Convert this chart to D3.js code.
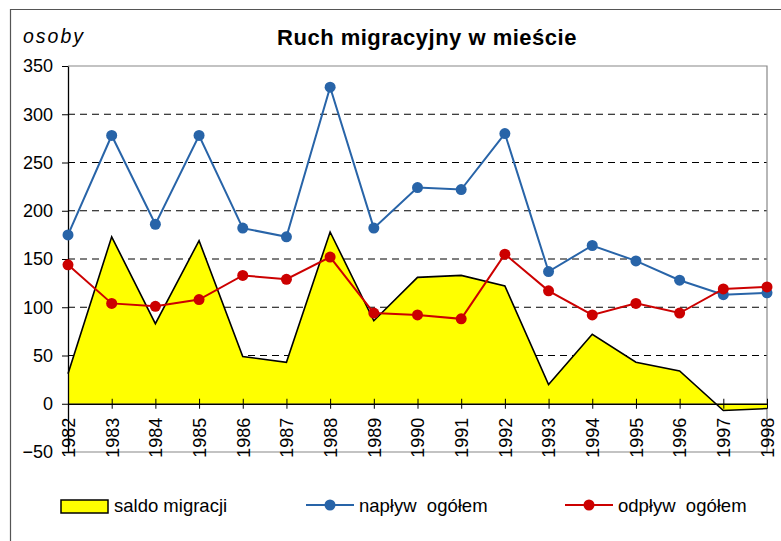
<!DOCTYPE html>
<html>
<head>
<meta charset="utf-8">
<script src="https://cdn.jsdelivr.net/npm/d3@7"></script>
<style>
  body { margin: 0; background: #fff; }
  svg { display: block; font-family: "Liberation Sans", Arial, sans-serif; }
</style>
</head>
<body>
<svg id="chart"></svg>
<script>
const years = [1982, 1983, 1984, 1985, 1986, 1987, 1988, 1989, 1990, 1991, 1992, 1993, 1994, 1995, 1996, 1997, 1998];
const saldo   = [31, 173, 83, 169, 49, 43, 178, 86, 131, 133, 122, 20, 72, 43, 34, -7, -5];
const naplyw  = [175, 278, 186, 278, 182, 173, 328, 182, 224, 222, 280, 137, 164, 148, 128, 113, 115];
const odplyw  = [144, 104, 101, 108, 133, 129, 152, 94, 92, 88, 155, 117, 92, 104, 94, 119, 121];
const yTicks = [-50, 0, 50, 100, 150, 200, 250, 300, 350];

const width = 781, height = 541;
const plot = {left: 68, right: 767, top: 66, bottom: 452};
const blue = "#2864a8", red = "#cc0000";

const svg = d3.select("#chart").attr("width", width).attr("height", height);

// outer chart frame (right/bottom are off the picture)
svg.append("path")
  .attr("d", `M10.5,${height + 2}V9.5H${width + 2}`)
  .attr("fill", "none")
  .attr("stroke", "#555")
  .attr("stroke-width", 1.2);

const x = d3.scalePoint().domain(years).range([plot.left, plot.right]);
const y = d3.scaleLinear().domain([-50, 350]).range([plot.bottom, plot.top]);

// dashed grid
svg.append("g")
  .selectAll("line")
  .data(yTicks.filter(d => d > 0 && d < 350))
  .join("line")
    .attr("x1", plot.left).attr("x2", plot.right)
    .attr("y1", d => y(d)).attr("y2", d => y(d))
    .attr("stroke", "#000")
    .attr("stroke-dasharray", "7,5");

// plot frame (top, right, bottom)
svg.append("path")
  .attr("d", `M${plot.left},${y(350)}H${plot.right}V${y(-50)}H${plot.left}`)
  .attr("fill", "none")
  .attr("stroke", "#888")
  .attr("stroke-width", 1.2);

// saldo area
const area = d3.area()
  .x((d, i) => x(years[i]))
  .y0(y(0))
  .y1(d => y(d));
svg.append("path")
  .datum(saldo)
  .attr("fill", "#ffff00")
  .attr("d", area);
svg.append("path")
  .datum(saldo)
  .attr("fill", "none")
  .attr("stroke", "#000")
  .attr("stroke-width", 1.6)
  .attr("d", d3.line().x((d, i) => x(years[i])).y(d => y(d)));

// x axis at zero
const xAxis = svg.append("g")
  .attr("transform", `translate(0,${y(0)})`)
  .call(d3.axisBottom(x).tickSize(5).tickSizeOuter(0));
xAxis.select(".domain").attr("stroke", "#000").attr("stroke-width", 1.3);
xAxis.selectAll(".tick line").attr("y1", -5).attr("y2", 5).attr("stroke", "#000");
xAxis.selectAll(".tick text")
  .attr("transform", "rotate(-90)")
  .attr("x", -54)
  .attr("y", 0)
  .attr("dy", "0.35em")
  .attr("text-anchor", "start")
  .attr("font-size", 18)
  .attr("font-family", "Liberation Sans, Arial, sans-serif")
  .attr("fill", "#000");

// y axis
const yAxis = svg.append("g")
  .attr("transform", `translate(${plot.left},0)`)
  .call(d3.axisLeft(y).tickValues(yTicks).tickSize(6).tickPadding(9).tickSizeOuter(0));
yAxis.select(".domain").attr("stroke", "#000").attr("stroke-width", 1.3);
yAxis.selectAll(".tick line").attr("stroke", "#000");
yAxis.selectAll(".tick text")
  .attr("font-size", 18)
  .attr("font-family", "Liberation Sans, Arial, sans-serif")
  .attr("fill", "#000");

// lines with markers
function series(values, color) {
  svg.append("path")
    .datum(values)
    .attr("fill", "none")
    .attr("stroke", color)
    .attr("stroke-width", 2)
    .attr("d", d3.line().x((d, i) => x(years[i])).y(d => y(d)));
  svg.append("g")
    .selectAll("circle")
    .data(values)
    .join("circle")
      .attr("cx", (d, i) => x(years[i]))
      .attr("cy", d => y(d))
      .attr("r", 5.5)
      .attr("fill", color);
}
series(naplyw, blue);
series(odplyw, red);

// titles
svg.append("text")
  .attr("x", 427).attr("y", 45)
  .attr("text-anchor", "middle")
  .attr("font-size", 22)
  .attr("font-weight", "bold")
  .attr("letter-spacing", 0.5)
  .text("Ruch migracyjny w mieście");
svg.append("text")
  .attr("x", 23).attr("y", 43)
  .attr("font-size", 19.5)
  .attr("font-style", "italic")
  .attr("letter-spacing", 2)
  .text("osoby");

// legend
const legend = svg.append("g").attr("font-size", 18.5);
legend.append("rect")
  .attr("x", 61).attr("y", 500).attr("width", 47).attr("height", 13)
  .attr("fill", "#ffff00").attr("stroke", "#000").attr("stroke-width", 1.5);
legend.append("text").attr("x", 114).attr("y", 511.5).text("saldo migracji");

[[306, blue, "napływ  ogółem"], [565, red, "odpływ  ogółem"]].forEach(([lx, color, label]) => {
  legend.append("line")
    .attr("x1", lx).attr("x2", lx + 48)
    .attr("y1", 505).attr("y2", 505)
    .attr("stroke", color).attr("stroke-width", 2);
  legend.append("circle")
    .attr("cx", lx + 24).attr("cy", 505).attr("r", 5.5).attr("fill", color);
  legend.append("text")
    .attr("x", lx + 53).attr("y", 511.5)
    .style("white-space", "pre")
    .text(label);
});
</script>
</body>
</html>
